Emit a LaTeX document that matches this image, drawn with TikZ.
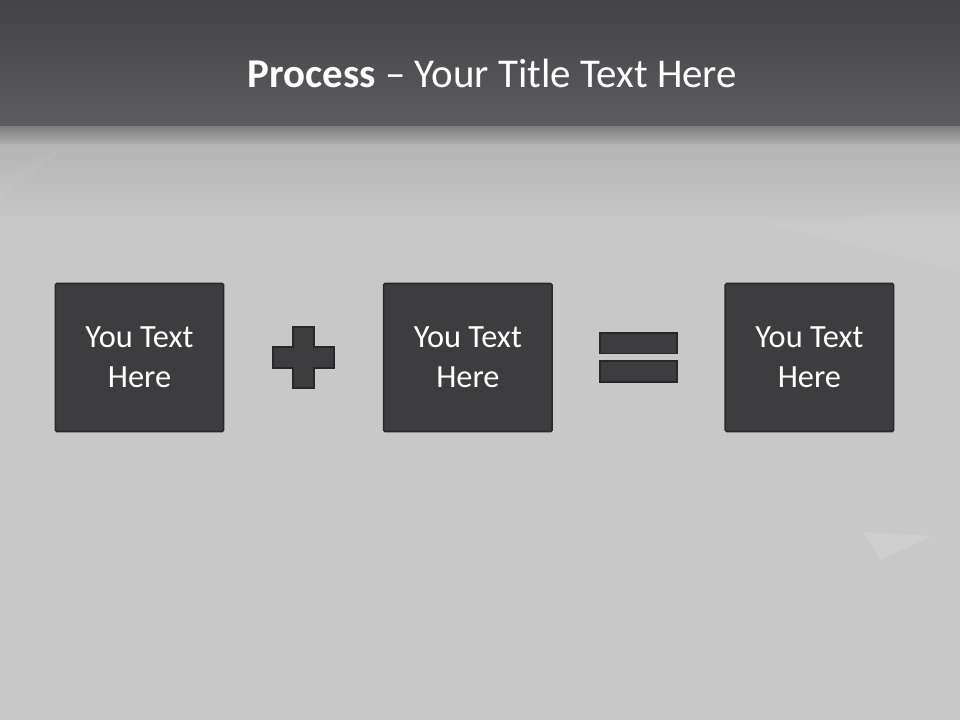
\documentclass[tikz,border=0pt]{standalone}
\usepackage{fontspec}
\setmainfont{Carlito}
\usetikzlibrary{positioning, calc}
\definecolor{bandtop}{RGB}{67, 67, 69}
\definecolor{bandlow}{RGB}{92, 92, 96}
\definecolor{slate}{RGB}{61, 61, 63}
\definecolor{slateedge}{RGB}{40, 40, 41}
\definecolor{paper}{RGB}{200, 200, 200}

\begin{document}
\begin{tikzpicture}[
    step box/.style={draw=slateedge, line width=1.1pt, rounded corners=1pt,
                     fill=slate, minimum width=4.21cm, minimum height=3.7cm,
                     align=center, text=white,
                     font=\fontsize{23}{28.4}\selectfont},
    sign/.style={draw=slateedge, line width=1.4pt, fill=slate}
]
    % background
    \useasboundingbox (0,0) rectangle (24,18);
    \fill[paper] (0,0) rectangle (24,18);
    \shade[top color=paper!90!black, bottom color=paper] (0,12.4) rectangle (24,14.4);
    \shade[top color=bandlow!70!paper, bottom color=paper!86!black] (0,14.4) rectangle (24,14.85);
    \shade[top color=bandtop, bottom color=bandlow] (0,14.85) rectangle (24,18);
    \fill[white, opacity=0.12] (21.6,4.7) -- (23.3,4.6) -- (22.0,4.0) -- cycle;
    \fill[white, opacity=0.05] (0,13.6) -- (1.6,14.3) -- (0,13.0) -- cycle;
    \fill[white, opacity=0.04] (19.2,12.4) -- (24,11.2) -- (24,12.8) -- cycle;

    % title
    \node[anchor=base, text=white, font=\fontsize{29.1}{35}\selectfont]
        (title) at (12.31,15.8) {\textbf{Process} -- Your Title Text Here};

    % boxes
    \node[step box] (first) at (3.4875,9.0625) {You Text\\Here};
    \node[step box, right=3.96cm of first] (second) {You Text\\Here};
    \node[step box, right=4.29cm of second] (result) {You Text\\Here};

    % plus sign
    \coordinate (plus) at ($(first.east)!0.5!(second.west)$);
    \draw[sign] ($(plus)+(-0.27,0.765)$) -- ++(0.54,0) -- ++(0,-0.495)
        -- ++(0.495,0) -- ++(0,-0.54) -- ++(-0.495,0) -- ++(0,-0.495)
        -- ++(-0.54,0) -- ++(0,0.495) -- ++(-0.495,0) -- ++(0,0.54)
        -- ++(0.495,0) -- cycle;

    % equals sign
    \coordinate (equals) at ($(second.east)!0.5!(result.west)$);
    \draw[sign] ($(equals)+(-0.96,0.1)$) rectangle ++(1.92,0.52);
    \draw[sign] ($(equals)+(-0.96,-0.08)$) rectangle ++(1.92,-0.53);
\end{tikzpicture}
\end{document}
